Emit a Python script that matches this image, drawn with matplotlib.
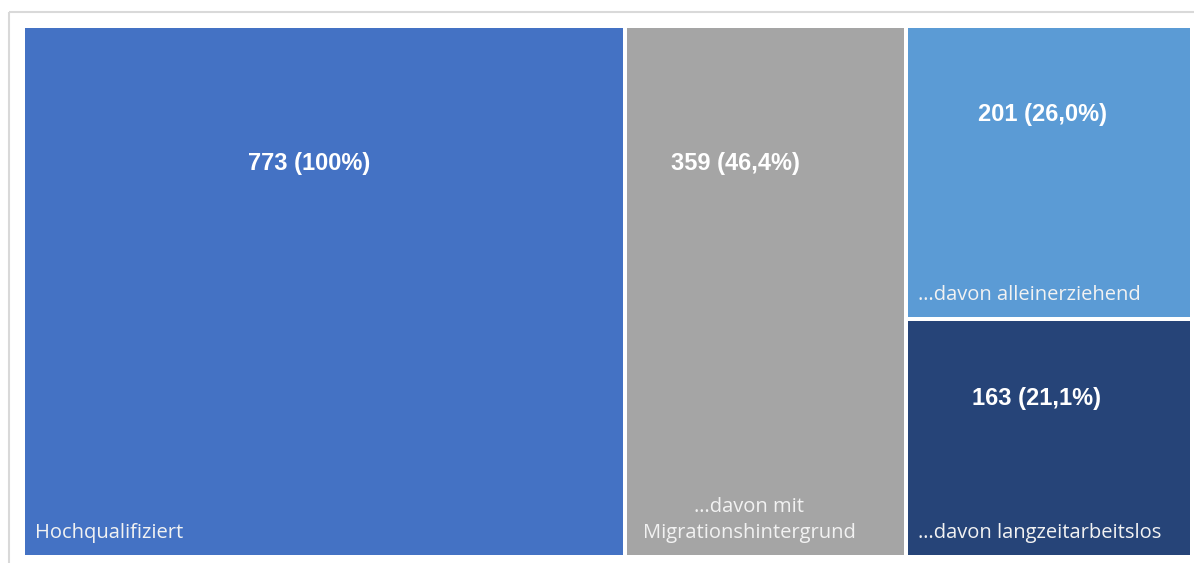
import matplotlib.pyplot as plt
from matplotlib.patches import Rectangle

# Data
categories = ['Hochqualifiziert', '…davon mit\nMigrationshintergrund',
              '…davon alleinerziehend', '…davon langzeitarbeitslos']
values = [773, 359, 201, 163]
value_labels = ['773 (100%)', '359 (46,4%)', '201 (26,0%)', '163 (21,1%)']
columns = [[0], [1], [2, 3]]  # which tiles stack in each column
colors = ['#4472C4', '#A5A5A5', '#5B9BD5', '#264478']

# layout area in pixels
X0, X1, Y0, Y1 = 25, 1190, 28, 555
GAP = 4

fig = plt.figure(figsize=(11.94, 5.63), dpi=100)
ax = fig.add_axes([0, 0, 1, 1])
ax.set_xlim(0, 1194)
ax.set_ylim(563, 0)
ax.axis('off')

# outer frame
ax.add_patch(Rectangle((8.5, 11.5), 1200, 600, fill=False, edgecolor='#D9D9D9', lw=1.5))

total = sum(values)
free_w = (X1 - X0) - GAP * (len(columns) - 1)
x = X0
rects = {}
for col in columns:
    col_sum = sum(values[i] for i in col)
    w = free_w * col_sum / total
    free_h = (Y1 - Y0) - GAP * (len(col) - 1)
    y = Y0
    for i in col:
        h = free_h * values[i] / col_sum
        rects[i] = (x, y, w, h)
        y += h + GAP
    x += w + GAP

# label placement: fraction of tile width / height
val_pos = [(0.475, 0.257), (0.39, 0.257), (0.475, 0.30), (0.455, 0.33)]

for i, (x, y, w, h) in rects.items():
    ax.add_patch(Rectangle((x, y), w, h, facecolor=colors[i], edgecolor='none'))
    fx, fy = val_pos[i]
    ax.text(x + w * fx, y + h * fy, value_labels[i], color='white', fontsize=17,
            fontweight='bold', family='Liberation Sans', ha='center', va='center')
    if '\n' in categories[i]:
        ax.text(x + w * 0.44, y + h - 12, categories[i], color='#F2F2F2', fontsize=14.5,
                family='Open Sans', ha='center', va='bottom', linespacing=1.4)
    else:
        ax.text(x + 10, y + h - 22, categories[i], color='#F2F2F2', fontsize=14.5,
                family='Open Sans', ha='left', va='center')

fig.savefig('out.png', dpi=100, facecolor='white')
